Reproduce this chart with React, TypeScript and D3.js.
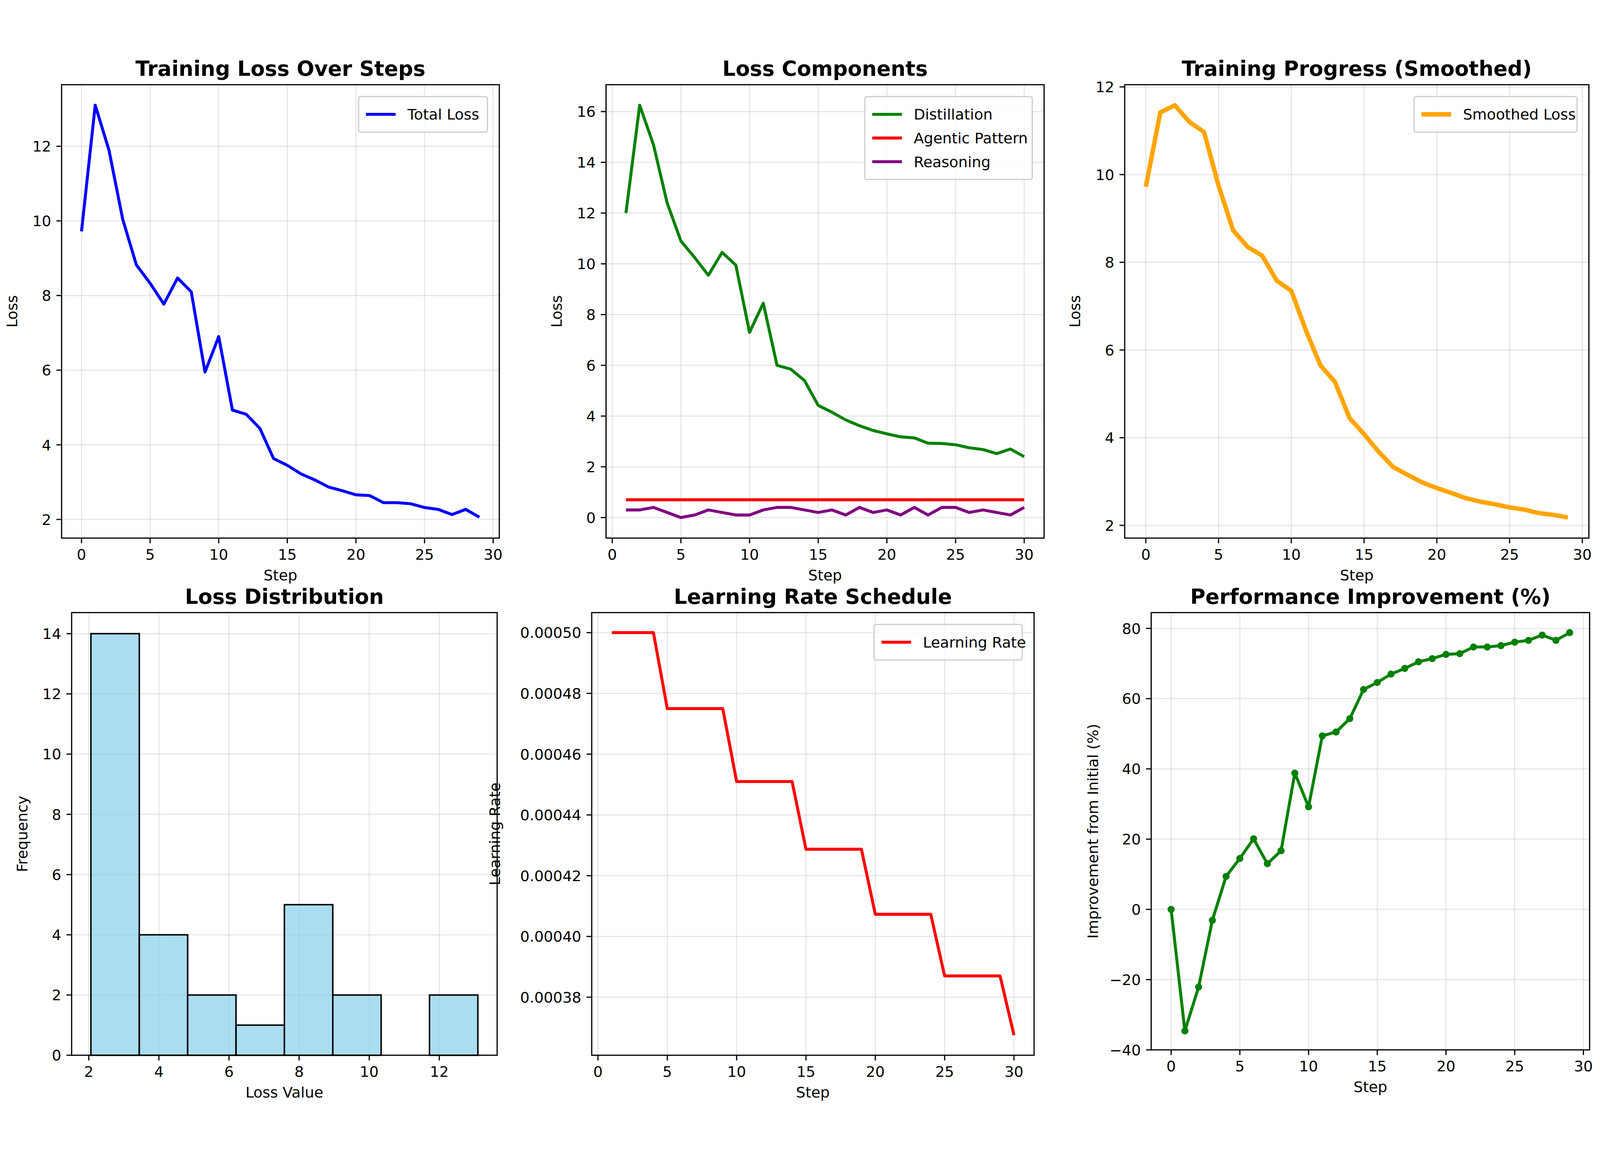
import * as d3 from 'd3';

const W = 4467;
const H = 2970;
const PT = 4467 / 15 / 72; // px per point

// ---- data ----
const steps0 = d3.range(0, 30);
const steps1 = d3.range(1, 31);

const totalLoss = [9.72, 13.1, 11.9, 10.05, 8.82, 8.33, 7.77, 8.47, 8.1, 5.95, 6.9, 4.93, 4.82, 4.44, 3.63,
  3.45, 3.22, 3.06, 2.87, 2.77, 2.66, 2.64, 2.45, 2.45, 2.42, 2.32, 2.27, 2.13, 2.27, 2.06];
const distillation = [12.0, 16.25, 14.7, 12.4, 10.9, 10.25, 9.55, 10.45, 9.95, 7.3, 8.45, 6.0, 5.85, 5.4, 4.42,
  4.15, 3.85, 3.62, 3.43, 3.3, 3.18, 3.14, 2.93, 2.92, 2.87, 2.75, 2.68, 2.52, 2.7, 2.4];
const agentic = [0.7, 0.7, 0.7, 0.7, 0.7, 0.7, 0.7, 0.7, 0.7, 0.7, 0.7, 0.7, 0.7, 0.7, 0.7,
  0.7, 0.7, 0.7, 0.7, 0.7, 0.7, 0.7, 0.7, 0.7, 0.7, 0.7, 0.7, 0.7, 0.7, 0.7];
const reasoning = [0.3, 0.3, 0.4, 0.2, 0.0, 0.1, 0.3, 0.2, 0.1, 0.1, 0.3, 0.4, 0.4, 0.3, 0.2,
  0.3, 0.1, 0.4, 0.2, 0.3, 0.1, 0.4, 0.1, 0.4, 0.4, 0.2, 0.3, 0.2, 0.1, 0.4];
const smoothed = [9.72, 11.42, 11.58, 11.2, 10.97, 9.75, 8.73, 8.35, 8.15, 7.58, 7.35, 6.45, 5.65, 5.27, 4.45,
  4.08, 3.68, 3.33, 3.15, 2.98, 2.85, 2.74, 2.62, 2.54, 2.48, 2.41, 2.36, 2.28, 2.24, 2.18];
const histEdges = [2.06, 3.44, 4.82, 6.2, 7.58, 8.96, 10.34, 11.72, 13.1];
const histCounts = [14, 4, 2, 1, 5, 2, 0, 2];
const learningRate = [0.0005, 0.0005, 0.0005, 0.0005, 0.000475, 0.000475, 0.000475, 0.000475, 0.000475,
  0.000451, 0.000451, 0.000451, 0.000451, 0.000451, 0.0004287, 0.0004287, 0.0004287, 0.0004287, 0.0004287,
  0.0004073, 0.0004073, 0.0004073, 0.0004073, 0.0004073, 0.000387, 0.000387, 0.000387, 0.000387, 0.000387,
  0.0003675];
const improvement = [0, -34.6, -22.1, -3.1, 9.4, 14.5, 20.1, 13.0, 16.7, 38.8, 29.2, 49.4, 50.5, 54.3, 62.6,
  64.6, 67.0, 68.6, 70.5, 71.4, 72.6, 72.8, 74.7, 74.7, 75.1, 76.1, 76.6, 78.1, 76.6, 78.8];

const FONT = 'DejaVu Sans';
const TICK = 10 * PT;

type Series = { xs: number[]; ys: number[]; color: string; width: number; label?: string; dots?: boolean };

interface PanelProps {
  box: [number, number, number, number]; // left, top, right, bottom
  title: string;
  xLabel: string;
  yLabel: string;
  xDomain: [number, number];
  yDomain: [number, number];
  xTicks: number[];
  yTicks: number[];
  yFmt?: (v: number) => string;
  series?: Series[];
  bars?: { edges: number[]; counts: number[] };
  legendWidth?: number;
  yLabelX?: number;
}

function Panel(p: PanelProps) {
  const [l, t, r, b] = p.box;
  const x = d3.scaleLinear().domain(p.xDomain).range([l, r]);
  const y = d3.scaleLinear().domain(p.yDomain).range([b, t]);
  const fmt = p.yFmt ?? ((v: number) => String(v).replace('-', '\u2212'));
  const line = d3.line<[number, number]>().x((d) => x(d[0])).y((d) => y(d[1]));
  const labeled = (p.series ?? []).filter((s) => s.label);
  const rowH = 16 * PT;
  const lw = p.legendWidth ?? 340;
  const lx = r - 8 * PT - lw;
  const ly = t + 8 * PT;
  return (
    <g>
      <text x={(l + r) / 2} y={t - 6 * PT} textAnchor="middle" fontSize={14 * PT} fontWeight="bold">{p.title}</text>
      {p.xTicks.map((v) => (
        <line key={'gx' + v} x1={x(v)} x2={x(v)} y1={t} y2={b} stroke="#b0b0b0" strokeOpacity={0.3} strokeWidth={0.8 * PT} />
      ))}
      {p.yTicks.map((v) => (
        <line key={'gy' + v} x1={l} x2={r} y1={y(v)} y2={y(v)} stroke="#b0b0b0" strokeOpacity={0.3} strokeWidth={0.8 * PT} />
      ))}
      {p.bars && p.bars.counts.map((c, i) => (
        <rect key={'b' + i} x={x(p.bars!.edges[i])} width={x(p.bars!.edges[i + 1]) - x(p.bars!.edges[i])}
          y={y(c)} height={y(0) - y(c)} fill="#87ceeb" fillOpacity={0.7} stroke="#000" strokeWidth={1 * PT} />
      ))}
      {(p.series ?? []).map((s, i) => {
        const pts = s.xs.map((v, j) => [v, s.ys[j]] as [number, number]);
        return (
          <g key={'s' + i}>
            <path d={line(pts)!} fill="none" stroke={s.color} strokeWidth={s.width} strokeLinejoin="round" />
            {s.dots && pts.map((d, j) => <circle key={j} cx={x(d[0])} cy={y(d[1])} r={2.4 * PT} fill={s.color} />)}
          </g>
        );
      })}
      <rect x={l} y={t} width={r - l} height={b - t} fill="none" stroke="#000" strokeWidth={0.8 * PT} />
      {p.xTicks.map((v) => (
        <g key={'tx' + v}>
          <line x1={x(v)} x2={x(v)} y1={b} y2={b + 3.5 * PT} stroke="#000" strokeWidth={0.8 * PT} />
          <text x={x(v)} y={b + 3.5 * PT + 3.5 * PT + TICK * 0.76} textAnchor="middle" fontSize={TICK}>{v}</text>
        </g>
      ))}
      {p.yTicks.map((v) => (
        <g key={'ty' + v}>
          <line x1={l} x2={l - 3.5 * PT} y1={y(v)} y2={y(v)} stroke="#000" strokeWidth={0.8 * PT} />
          <text x={l - 7 * PT} y={y(v)} dy="0.36em" textAnchor="end" fontSize={TICK}>{fmt(v)}</text>
        </g>
      ))}
      <text x={(l + r) / 2} y={b + 7 * PT + TICK + 4 * PT + TICK * 0.76} textAnchor="middle" fontSize={TICK}>{p.xLabel}</text>
      <text transform={`translate(${p.yLabelX ?? l - 44 * PT},${(t + b) / 2}) rotate(-90)`} textAnchor="middle" fontSize={TICK}>{p.yLabel}</text>
      {labeled.length > 0 && (
        <g>
          <rect x={lx} y={ly} width={lw} height={labeled.length * rowH + 8 * PT} rx={PT * 1.5} fill="#fff" fillOpacity={0.8}
            stroke="#cccccc" strokeWidth={0.8 * PT} />
          {labeled.map((s, i) => (
            <g key={'lg' + i}>
              <line x1={lx + 5 * PT} x2={lx + 25 * PT} y1={ly + 12 * PT + i * rowH} y2={ly + 12 * PT + i * rowH}
                stroke={s.color} strokeWidth={s.width} />
              <text x={lx + 33 * PT} y={ly + 12 * PT + i * rowH} dy="0.36em" fontSize={TICK}>{s.label}</text>
            </g>
          ))}
        </g>
      )}
    </g>
  );
}

export default function App() {
  const lw2 = 2 * PT;
  return (
    <svg viewBox={`0 0 ${W} ${H}`} preserveAspectRatio="xMidYMid meet"
      style={{ position: 'fixed', left: 0, top: 0, width: '100vw', height: '100vh', display: 'block', background: '#fff' }}
      fontFamily={FONT}>
      <rect width={W} height={H} fill="#fff" />
      <Panel box={[172, 102, 1394, 1368]} title="Training Loss Over Steps" xLabel="Step" yLabel="Loss"
        xDomain={[-1.45, 30.45]} yDomain={[1.5, 13.65]} xTicks={[0, 5, 10, 15, 20, 25, 30]} yTicks={[2, 4, 6, 8, 10, 12]}
        series={[{ xs: steps0, ys: totalLoss, color: '#0000ff', width: lw2, label: 'Total Loss' }]}
        legendWidth={87 * PT} yLabelX={172 - 30 * PT} />
      <Panel box={[1692, 102, 2915, 1368]} title="Loss Components" xLabel="Step" yLabel="Loss"
        xDomain={[-0.45, 31.45]} yDomain={[-0.81, 17.06]} xTicks={[0, 5, 10, 15, 20, 25, 30]}
        yTicks={[0, 2, 4, 6, 8, 10, 12, 14, 16]}
        series={[
          { xs: steps1, ys: distillation, color: '#008000', width: lw2, label: 'Distillation' },
          { xs: steps1, ys: agentic, color: '#ff0000', width: lw2, label: 'Agentic Pattern' },
          { xs: steps1, ys: reasoning, color: '#800080', width: lw2, label: 'Reasoning' },
        ]}
        legendWidth={113 * PT} yLabelX={1692 - 30 * PT} />
      <Panel box={[3140, 102, 4436, 1368]} title="Training Progress (Smoothed)" xLabel="Step" yLabel="Loss"
        xDomain={[-1.45, 30.45]} yDomain={[1.71, 12.05]} xTicks={[0, 5, 10, 15, 20, 25, 30]} yTicks={[2, 4, 6, 8, 10, 12]}
        series={[{ xs: steps0, ys: smoothed, color: '#ffa500', width: 3 * PT, label: 'Smoothed Loss' }]}
        legendWidth={110 * PT} yLabelX={3140 - 30 * PT} />
      <Panel box={[200, 1576, 1388, 2812]} title="Loss Distribution" xLabel="Loss Value" yLabel="Frequency"
        xDomain={[1.51, 13.65]} yDomain={[0, 14.7]} xTicks={[2, 4, 6, 8, 10, 12]} yTicks={[0, 2, 4, 6, 8, 10, 12, 14]}
        bars={{ edges: histEdges, counts: histCounts }} yLabelX={200 - 30 * PT} />
      <Panel box={[1652, 1576, 2887, 2812]} title="Learning Rate Schedule" xLabel="Step" yLabel="Learning Rate"
        xDomain={[-0.45, 31.45]} yDomain={[0.0003609, 0.0005066]} xTicks={[0, 5, 10, 15, 20, 25, 30]}
        yTicks={[0.00038, 0.0004, 0.00042, 0.00044, 0.00046, 0.00048, 0.0005]} yFmt={(v) => v.toFixed(5)}
        series={[{ xs: steps1, ys: learningRate, color: '#ff0000', width: lw2, label: 'Learning Rate' }]}
        legendWidth={100 * PT} yLabelX={1652 - 62 * PT} />
      <Panel box={[3214, 1576, 4438, 2797]} title="Performance Improvement (%)" xLabel="Step" yLabel="Improvement from Initial (%)"
        xDomain={[-1.45, 30.45]} yDomain={[-40, 84.5]} xTicks={[0, 5, 10, 15, 20, 25, 30]}
        yTicks={[-40, -20, 0, 20, 40, 60, 80]}
        series={[{ xs: steps0, ys: improvement, color: '#008000', width: lw2, dots: true }]} yLabelX={3214 - 36 * PT} />
    </svg>
  );
}
